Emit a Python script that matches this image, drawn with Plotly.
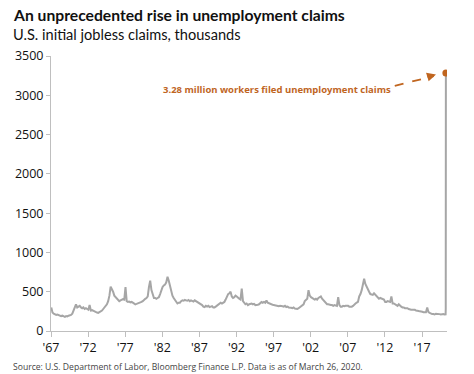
import plotly.graph_objects as go

# Years covered (values read roughly every two months: Jan, Mar, May, Jul, Sep, Nov)
years = list(range(1967, 2020))
months = [1, 3, 5, 7, 9, 11]

# Initial jobless claims (thousands), six readings per year
claims_by_year = [
    [300, 235, 220, 215, 205, 210],  # 1967
    [200, 195, 190, 195, 185, 180],  # 1968
    [190, 185, 195, 200, 205, 220],  # 1969
    [260, 300, 340, 300, 310, 320],  # 1970
    [300, 290, 300, 280, 290, 280],  # 1971
    [270, 330, 260, 265, 255, 250],  # 1972
    [240, 235, 230, 240, 245, 260],  # 1973
    [280, 300, 310, 340, 380, 450],  # 1974
    [565, 540, 500, 450, 430, 420],  # 1975
    [390, 380, 390, 400, 405, 400],  # 1976
    [560, 380, 370, 375, 365, 370],  # 1977
    [360, 350, 340, 345, 350, 355],  # 1978
    [360, 370, 380, 400, 410, 420],  # 1979
    [440, 560, 640, 520, 460, 420],  # 1980
    [420, 410, 420, 430, 470, 530],  # 1981
    [560, 580, 590, 620, 690, 640],  # 1982
    [560, 500, 450, 420, 390, 380],  # 1983
    [350, 360, 360, 380, 390, 385],  # 1984
    [395, 390, 385, 395, 380, 390],  # 1985
    [380, 375, 390, 380, 370, 365],  # 1986
    [350, 340, 330, 310, 305, 320],  # 1987
    [310, 320, 305, 310, 315, 300],  # 1988
    [300, 310, 320, 340, 350, 360],  # 1989
    [350, 360, 370, 400, 440, 470],  # 1990
    [480, 500, 440, 420, 430, 450],  # 1991
    [440, 420, 410, 400, 540, 380],  # 1992
    [360, 340, 350, 330, 340, 345],  # 1993
    [350, 340, 345, 330, 330, 335],  # 1994
    [340, 350, 370, 360, 370, 360],  # 1995
    [390, 360, 350, 345, 340, 335],  # 1996
    [330, 325, 320, 320, 315, 320],  # 1997
    [320, 315, 310, 320, 305, 310],  # 1998
    [300, 300, 295, 290, 300, 285],  # 1999
    [280, 280, 290, 300, 310, 320],  # 2000
    [340, 380, 400, 410, 520, 450],  # 2001
    [430, 420, 410, 400, 410, 400],  # 2002
    [420, 430, 440, 410, 390, 370],  # 2003
    [350, 340, 340, 330, 330, 330],  # 2004
    [320, 330, 320, 320, 430, 330],  # 2005
    [310, 310, 320, 315, 320, 320],  # 2006
    [320, 310, 310, 310, 320, 340],  # 2007
    [350, 360, 370, 440, 470, 520],  # 2008
    [620, 665, 600, 560, 540, 500],  # 2009
    [470, 460, 460, 480, 460, 440],  # 2010
    [420, 410, 420, 410, 410, 400],  # 2011
    [370, 370, 380, 370, 370, 440],  # 2012
    [350, 350, 340, 330, 320, 340],  # 2013
    [320, 310, 300, 300, 290, 290],  # 2014
    [290, 280, 270, 270, 270, 270],  # 2015
    [270, 260, 260, 255, 250, 250],  # 2016
    [245, 240, 240, 240, 300, 240],  # 2017
    [230, 220, 215, 215, 210, 220],  # 2018
    [215, 215, 215, 210, 215, 215],  # 2019
]

# Final weeks of the series (2020)
recent_dates = ["2020-01-15", "2020-02-15", "2020-03-07", "2020-03-14", "2020-03-21"]
recent_claims = [210, 215, 211, 282, 3283]

tick_years = [1967, 1972, 1977, 1982, 1987, 1992, 1997, 2002, 2007, 2012, 2017]
tick_labels = ["'67", "'72", "'77", "'82", "'87", "'92", "'97", "'02", "'07", "'12", "'17"]
y_ticks = [0, 500, 1000, 1500, 2000, 2500, 3000, 3500]

dates = []
claims = []
for yr, vals in zip(years, claims_by_year):
    for m, v in zip(months, vals):
        dates.append(f"{yr}-{m:02d}-15")
        claims.append(v)
dates += recent_dates
claims += recent_claims

ORANGE = "#c0651f"
GRAY = "#a6a6a6"
AXIS = "#bfbfbf"
FONT = "Open Sans"
TFONT = "Lato"

fig = go.Figure()
fig.add_trace(go.Scatter(x=dates, y=claims, mode="lines",
                         line=dict(color=GRAY, width=2), hoverinfo="skip"))
fig.add_trace(go.Scatter(x=[dates[-1]], y=[claims[-1]], mode="markers",
                         marker=dict(color=ORANGE, size=7), hoverinfo="skip"))

W, H = 474, 374
L, T = 51, 56
R = W - 447
B = H - 331
pw, ph = W - L - R, H - T - B

def px(xp):
    return (xp - L) / pw

def py(yp):
    return (H - B - yp) / ph

# dashed arrow shaft
fig.add_shape(type="line", xref="x", yref="y",
              x0="2013-05-01", y0=3120, x1="2018-08-01", y1=3245,
              line=dict(color=ORANGE, width=1.8, dash="dash"))
# arrowhead
fig.add_annotation(x="2018-11-20", y=3265, xref="x", yref="y", text="",
                   showarrow=True, arrowhead=2, arrowsize=1, arrowwidth=1.8,
                   arrowcolor=ORANGE, ax=-10, ay=3)
fig.add_annotation(x="2013-01-15", y=3075, xref="x", yref="y",
                   text="<b>3.28 million workers filed unemployment claims</b>",
                   showarrow=False, xanchor="right", yanchor="middle",
                   font=dict(family=FONT, size=9.5, color=ORANGE))

fig.add_annotation(x=px(11), y=py(15), xref="paper", yref="paper",
                   text="<b>An unprecedented rise in unemployment claims</b>",
                   showarrow=False, xanchor="left", yanchor="middle",
                   font=dict(family=TFONT, size=15.7, color="#111111"))
fig.add_annotation(x=px(11), y=py(35), xref="paper", yref="paper",
                   text="U.S. initial jobless claims, thousands",
                   showarrow=False, xanchor="left", yanchor="middle",
                   font=dict(family=TFONT, size=14.6, color="#111111"))
fig.add_annotation(x=px(11), y=py(367), xref="paper", yref="paper",
                   text="Source: U.S. Department of Labor, Bloomberg Finance L.P. Data is as of March 26, 2020.",
                   showarrow=False, xanchor="left", yanchor="middle",
                   font=dict(family=FONT, size=8.6, color="#444444"))

fig.update_layout(
    width=W, height=H,
    margin=dict(l=L, r=R, t=T, b=B),
    paper_bgcolor="white", plot_bgcolor="white",
    showlegend=False,
    font=dict(family=FONT, color="#111111"),
    xaxis=dict(type="date", range=["1967-01-01", "2020-05-15"],
               tickvals=[f"{y}-01-01" for y in tick_years], ticktext=tick_labels,
               showgrid=False, zeroline=False, showline=True, linecolor=AXIS, linewidth=1,
               ticks="outside", ticklen=5, tickcolor=AXIS,
               tickfont=dict(family=FONT, size=12.5, color="#111111")),
    yaxis=dict(range=[0, 3500], tickvals=y_ticks,
               showgrid=False, zeroline=False, showline=True, linecolor=AXIS, linewidth=1,
               ticks="outside", ticklen=4, tickcolor=AXIS,
               tickfont=dict(family=FONT, size=12.5, color="#111111")),
)

fig.write_html("out.html", config={"displayModeBar": False},
               post_script="document.body.style.margin='0';")
